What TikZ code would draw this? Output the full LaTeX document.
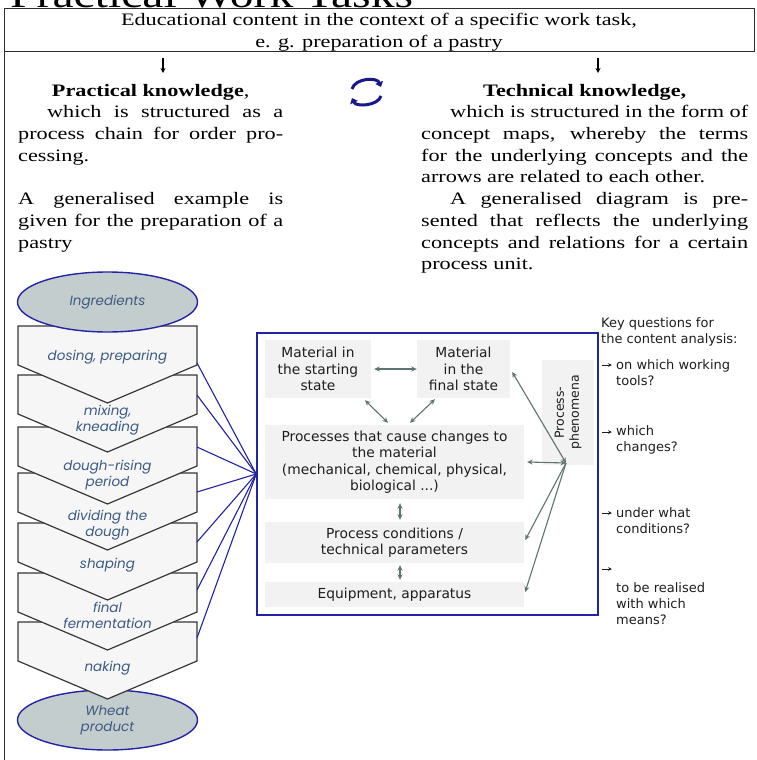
\documentclass[tikz,border=0pt]{standalone}
\usepackage{fontspec}
\setmainfont{Liberation Serif}[FakeStretch=1.27]
\newfontfamily\cmfont{DejaVu Sans}
\newfontfamily\chevfont{Poppins}
\usetikzlibrary{arrows.meta,shapes.geometric}
\definecolor{frameblue}{RGB}{35,35,165}
\definecolor{ellfill}{RGB}{196,205,205}
\definecolor{chevfill}{RGB}{246,246,246}
\definecolor{chevline}{RGB}{55,55,55}
\definecolor{chevtext}{RGB}{60,90,130}
\definecolor{boxfill}{RGB}{242,242,242}
\definecolor{cmarrow}{RGB}{95,115,112}
\definecolor{cycleblue}{RGB}{25,25,140}
\definecolor{textdark}{RGB}{30,30,30}
\definecolor{framegrey}{RGB}{45,45,45}
\begin{document}
\begin{tikzpicture}[x=1pt,y=-1pt,
  serif/.style={font=\fontsize{17.5}{21.7}\selectfont, inner sep=0pt, align=left, anchor=north west},
  chev/.style={fill=chevfill, draw=chevline, line width=1.2pt, line join=miter},
  chevlabel/.style={font=\chevfont\itshape\fontsize{13.5}{16}\selectfont, text=chevtext, align=center, inner sep=0pt},
  ellnode/.style={ellipse, draw=frameblue, fill=ellfill, line width=1.4pt, minimum width=180pt, minimum height=60pt, inner sep=0pt, font=\chevfont\itshape\fontsize{13.5}{16}\selectfont, text=chevtext, align=center},
  cmbox/.style={fill=boxfill, font=\cmfont\fontsize{13.8}{16.5}\selectfont, align=center, inner sep=0pt, text=textdark},
  cmarr/.style={draw=cmarrow, line width=1.1pt, arrows={Stealth[length=5.5pt,width=5pt]-Stealth[length=5.5pt,width=5pt]}},
  cmarrone/.style={draw=cmarrow, line width=1.1pt, arrows={-Stealth[length=5.5pt,width=5pt]}},
  fan/.style={draw=frameblue, line width=1.1pt},
  kq/.style={font=\cmfont\fontsize{13}{16}\selectfont, align=left, anchor=west, inner sep=0pt, text=textdark},
  qarr/.style={draw=textdark, line width=0.9pt, -{Stealth[length=3.5pt,width=3.5pt]}},
  downarr/.style={draw=black, line width=1.2pt, -{Stealth[length=5pt,width=5pt]}},
  cyc/.style={draw=cycleblue, line width=3pt, -{Triangle[length=5pt,width=8pt]}}
]
\useasboundingbox (0,0) rectangle (756,760);
\fill[white] (0,0) rectangle (756,760);

% title (cut off at the top)
\begin{scope}
\clip (0,0) rectangle (756,760);
\node[anchor=base west, inner sep=0pt, font=\fontsize{37.5}{40}\selectfont] (title) at (10,7.5) {Practical Work Tasks};
\end{scope}

% frame
\draw[framegrey, line width=1pt] (4,9) rectangle (754,52);
\draw[framegrey, line width=1pt] (4,52) -- (4,760);

\node[anchor=north, inner sep=0pt, align=center, font=\fontsize{17.5}{21.7}\selectfont] (header) at (379,10.5)
  {\strut Educational content in the context of a specific work task,\\e. g. preparation of a pastry};

% down arrows
\coordinate (dl0) at (163,58);
\coordinate (dl1) at (163,73);
\coordinate (dr0) at (598,58);
\coordinate (dr1) at (598,73);
\draw[downarr] (dl0) -- (dl1);
\draw[downarr] (dr0) -- (dr1);

% text blocks
\node[serif] (practical) at (18,80.8) {\makebox[265pt][c]{\strut\textbf{Practical knowledge},}\\
\hspace*{29pt}\makebox[236pt][s]{which is structured as a}\\
\makebox[265pt][s]{process chain for order pro-}\\
cessing.\\
\mbox{}\\
\makebox[265pt][s]{A generalised example is}\\
\makebox[265pt][s]{given for the preparation of a}\\
pastry};

\node[serif] (technical) at (421,80.8) {\makebox[327pt][c]{\strut\bfseries Technical knowledge,}\\
\hspace*{29pt}\makebox[298pt][s]{which is structured in the form of}\\
\makebox[327pt][s]{concept maps, whereby the terms}\\
\makebox[327pt][s]{for the underlying concepts and the}\\
arrows are related to each other.\\
\hspace*{29pt}\makebox[298pt][s]{A generalised diagram is pre-}\\
\makebox[327pt][s]{sented that reflects the underlying}\\
\makebox[327pt][s]{concepts and relations for a certain}\\
process unit.};

% cycle arrows
\draw[cyc] (352,89) .. controls (355,78) and (377,77) .. (381,87);
\draw[cyc] (381,96) .. controls (378,106) and (356,107) .. (352,98);

% process chain
\node[ellnode] (wheat) at (107.5,720) {Wheat\\product};
\foreach \t in {622,573,523,473,427,375,326} {
  \draw[chev] (18,\t) -- (197,\t) -- (197,{\t+39}) -- (107.5,{\t+77}) -- (18,{\t+39}) -- cycle;
}
\node[ellnode] (ingr) at (107.5,302) {Ingredients};

\node[chevlabel] (ch1) at (107.5,357) {dosing, preparing};
\node[chevlabel] (ch2) at (107.5,420) {mixing,\\kneading};
\node[chevlabel] (ch3) at (107.5,475.5) {dough-rising\\period};
\node[chevlabel] (ch4) at (107.5,525.5) {dividing the\\dough};
\node[chevlabel] (ch5) at (107.5,565) {shaping};
\node[chevlabel] (ch6) at (107.5,615) {final\\fermentation};
\node[chevlabel] (ch7) at (107.5,668) {naking};

\coordinate (r1) at (197,363);
\coordinate (r2) at (197,395);
\coordinate (r3) at (197,447);
\coordinate (r4) at (197,492);
\coordinate (r5) at (197,542);
\coordinate (r6) at (197,590);
\coordinate (r7) at (197,638);

% concept map
\node[draw=frameblue, line width=1.5pt, minimum width=341pt, minimum height=282pt, inner sep=0pt] (cbox) at (427.5,474) {};

\foreach \i in {1,...,7} { \draw[fan] (r\i) -- (cbox.west); }

\node[cmbox, minimum width=106pt, minimum height=58pt] (m1) at (318,369) {Material in\\the starting\\state};
\node[cmbox, minimum width=93pt, minimum height=58pt] (m2) at (463.5,369) {Material\\in the\\final state};
\node[cmbox, minimum width=259pt, minimum height=74pt] (proc) at (394.5,462) {Processes that cause changes to\\the material\\(mechanical, chemical, physical,\\biological ...)};
\node[cmbox, minimum width=259pt, minimum height=41pt] (cond) at (394.5,542.5) {Process conditions /\\technical parameters};
\node[cmbox, minimum width=259pt, minimum height=25pt] (equip) at (394.5,594.5) {Equipment, apparatus};
\node[cmbox, rotate=90, minimum width=105pt, minimum height=52pt, font=\cmfont\fontsize{12.5}{15}\selectfont] (phen) at (568,412.5) {Process-\\phenomena};

\draw[cmarr] ([xshift=3pt]m1.east) -- (m2.west);
\draw[cmarr] ([xshift=47pt,yshift=-2pt]m1.south) -- ([xshift=-6.5pt,yshift=2pt]proc.north);
\draw[cmarr] ([xshift=-28.5pt,yshift=-1pt]m2.south) -- ([xshift=15.5pt,yshift=2pt]proc.north);
\draw[cmarr] ([xshift=5.5pt,yshift=-4pt]proc.south) -- ([xshift=5.5pt,yshift=2pt]cond.north);
\draw[cmarr] ([xshift=5.5pt,yshift=-2pt]cond.south) -- ([xshift=5.5pt,yshift=2pt]equip.north);

\coordinate (hub) at (566,463);
\draw[cmarr] (hub) -- ([xshift=2pt,yshift=-3pt]m2.east);
\draw[cmarr] (hub) -- ([xshift=3pt]proc.east);
\draw[cmarrone] (hub) -- ([xshift=1pt,yshift=2.5pt]cond.east);
\draw[cmarrone] (hub) -- ([xshift=1pt,yshift=2.5pt]equip.east);

% key questions
\node[kq] (kqh) at (601,332) {Key questions for\\the content analysis:};
\node[kq] (q1) at (616,373) {on which working\\tools?};
\node[kq] (q2) at (616,440) {which\\changes?};
\node[kq] (q3) at (616,521) {under what\\conditions?};
\node[kq] (q4) at (616,604) {to be realised\\with which\\means?};

\draw[qarr] (cbox.east |- 0,365) ++(3pt,0) -- ++(10pt,0);
\draw[qarr] (cbox.east |- 0,432) ++(3pt,0) -- ++(10pt,0);
\draw[qarr] (cbox.east |- 0,513) ++(3pt,0) -- ++(10pt,0);
\draw[qarr] (cbox.east |- 0,569) ++(3pt,0) -- ++(10pt,0);
\end{tikzpicture}
\end{document}
